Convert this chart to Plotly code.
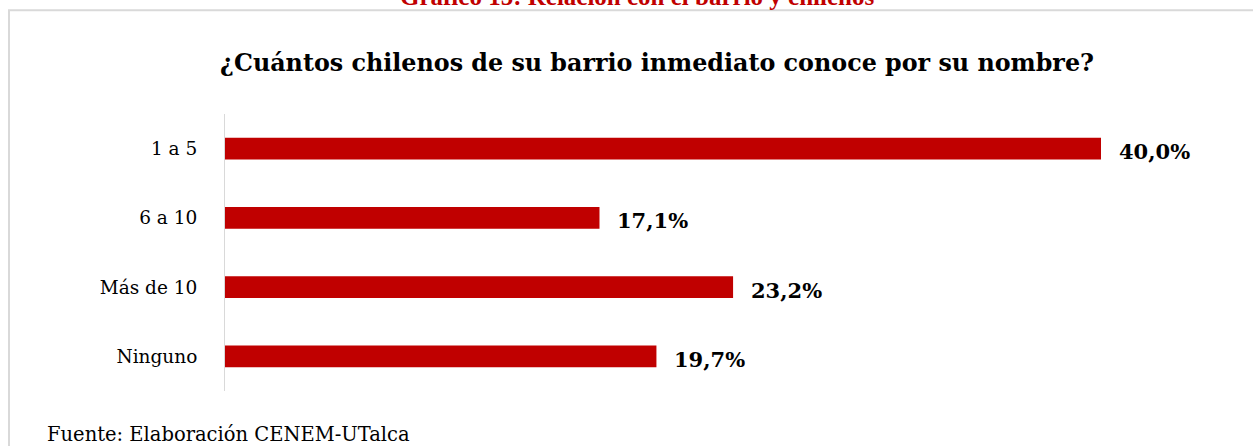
import plotly.graph_objects as go

categories = ["1 a 5", "6 a 10", "Más de 10", "Ninguno"]
values = [40.0, 17.1, 23.2, 19.7]
value_labels = ["40,0%", "17,1%", "23,2%", "19,7%"]

title_text = "¿Cuántos chilenos de su barrio inmediato conoce por su nombre?"
heading_text = "Gráfico 15: Relación con el barrio y chilenos"
source_text = "Fuente: Elaboración CENEM-UTalca"

W, H = 1253, 446
L, R, T, B = 225, 23, 113.5, 54.5
pw = W - L - R
ph = H - T - B

def px_x(p):
    return (p - L) / pw

def px_y(p):
    return (H - B - p) / ph

SERIF = "DejaVu Serif"
RED = "#c00000"

fig = go.Figure()
fig.add_trace(go.Bar(
    x=values, y=categories, orientation="h",
    marker=dict(color=RED, line=dict(width=0)),
    width=0.316, hoverinfo="skip",
))

annotations = []
for c, v, t in zip(categories, values, value_labels):
    annotations.append(dict(
        x=v, y=c, xref="x", yref="y", text=f"<b>{t}</b>", showarrow=False,
        xanchor="left", yanchor="middle", xshift=16, yshift=-3,
        font=dict(family=SERIF, size=21, color="#000000"),
    ))

annotations.append(dict(
    x=px_x(657), y=px_y(62), xref="paper", yref="paper",
    text=f"<b>{title_text}</b>", showarrow=False,
    xanchor="center", yanchor="middle",
    font=dict(family=SERIF, size=23.8, color="#000000"),
))
annotations.append(dict(
    x=px_x(637.5), y=px_y(-4), xref="paper", yref="paper",
    text=f"<b>{heading_text}</b>", showarrow=False,
    xanchor="center", yanchor="middle",
    font=dict(family="Liberation Serif", size=25, color=RED),
))
annotations.append(dict(
    x=px_x(45), y=px_y(435), xref="paper", yref="paper",
    text=source_text, showarrow=False,
    xanchor="left", yanchor="middle",
    font=dict(family=SERIF, size=19.5, color="#000000"),
))

fig.update_layout(
    width=W, height=H,
    margin=dict(l=L, r=R, t=T, b=B, pad=0),
    paper_bgcolor="white", plot_bgcolor="white",
    showlegend=False,
    annotations=annotations,
    shapes=[dict(
        type="rect", xref="paper", yref="paper",
        x0=px_x(9), x1=px_x(1275), y0=px_y(470), y1=px_y(9.5),
        line=dict(color="#d9d9d9", width=2), fillcolor="rgba(0,0,0,0)",
        layer="below",
    )],
    xaxis=dict(range=[0, pw / 21.9], showgrid=False, zeroline=False,
               showline=False, showticklabels=False, ticks="", fixedrange=True),
    yaxis=dict(categoryorder="array", categoryarray=categories,
               autorange="reversed", showgrid=False, zeroline=False,
               showline=True, linecolor="#d9d9d9", linewidth=1,
               ticks="", ticklabelstandoff=23,
               tickfont=dict(family=SERIF, size=18.5, color="#000000"),
               fixedrange=True),
)

fig.write_html(
    "out.html",
    config={"displayModeBar": False},
    post_script="document.body.style.margin='0';document.body.style.overflow='hidden';",
)
